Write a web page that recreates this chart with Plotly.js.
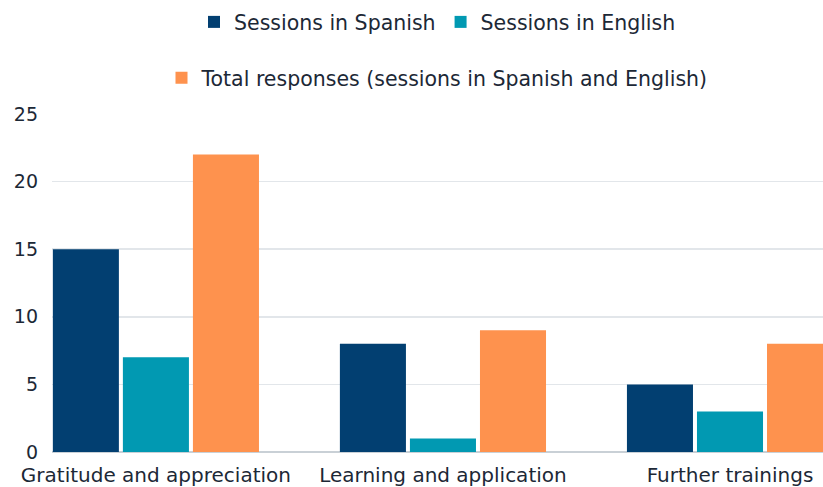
<!DOCTYPE html>
<html>
<head>
<meta charset="utf-8">
<script src="https://cdn.plot.ly/plotly-3.0.1.min.js"></script>
<style>
  body { margin: 0; background: #fff; }
  #chart { width: 823px; height: 487px; }
</style>
</head>
<body>
<div id="chart"></div>
<script>
var categories = ['Gratitude and appreciation', 'Learning and application', 'Further trainings'];
var spanish = [15, 8, 5];
var english = [7, 1, 3];
var total = [22, 9, 8];
var yTicks = [0, 5, 10, 15, 20, 25];

var fontFam = '"DejaVu Sans", "Open Sans", sans-serif';
var textCol = '#1c2836';

var trace1 = {
  x: categories,
  y: spanish,
  name: 'Sessions in Spanish',
  type: 'bar',
  marker: {color: '#023f71'},
  legend: 'legend'
};
var trace2 = {
  x: categories,
  y: english,
  name: 'Sessions in English',
  type: 'bar',
  marker: {color: '#0199b2'},
  legend: 'legend'
};
var trace3 = {
  x: categories,
  y: total,
  name: 'Total responses (sessions in Spanish and English)',
  type: 'bar',
  marker: {color: '#fe924e'},
  legend: 'legend2'
};

var layout = {
  width: 823,
  height: 487,
  margin: {l: 52, r: 0, t: 114, b: 35},
  paper_bgcolor: '#ffffff',
  plot_bgcolor: '#ffffff',
  font: {family: fontFam, size: 19, color: textCol},
  barmode: 'group',
  bargap: 0.268,
  bargroupgap: 0.057,
  xaxis: {
    range: [-0.362, 2.324],
    showgrid: false,
    ticks: '',
    ticklabelstandoff: 9,
    tickfont: {size: 20, color: textCol},
    automargin: false
  },
  yaxis: {
    range: [0, 25],
    tickvals: yTicks,
    showgrid: true,
    gridcolor: '#e2e6ea',
    gridwidth: 1.5,
    zeroline: true,
    zerolinecolor: '#c9d0d6',
    zerolinewidth: 1.5,
    ticks: '',
    ticklabelstandoff: 13,
    tickfont: {size: 19, color: textCol},
    automargin: false
  },
  showlegend: true,
  legend: {
    orientation: 'h',
    x: 0.5, xanchor: 'center',
    y: 1.272, yanchor: 'middle',
    font: {size: 20.5, color: textCol},
    bgcolor: 'rgba(0,0,0,0)'
  },
  legend2: {
    orientation: 'h',
    x: 0.5, xanchor: 'center',
    y: 1.107, yanchor: 'middle',
    font: {size: 20.5, color: textCol},
    bgcolor: 'rgba(0,0,0,0)'
  }
};

Plotly.newPlot('chart', [trace1, trace2, trace3], layout, {displayModeBar: false, staticPlot: true});
</script>
</body>
</html>
